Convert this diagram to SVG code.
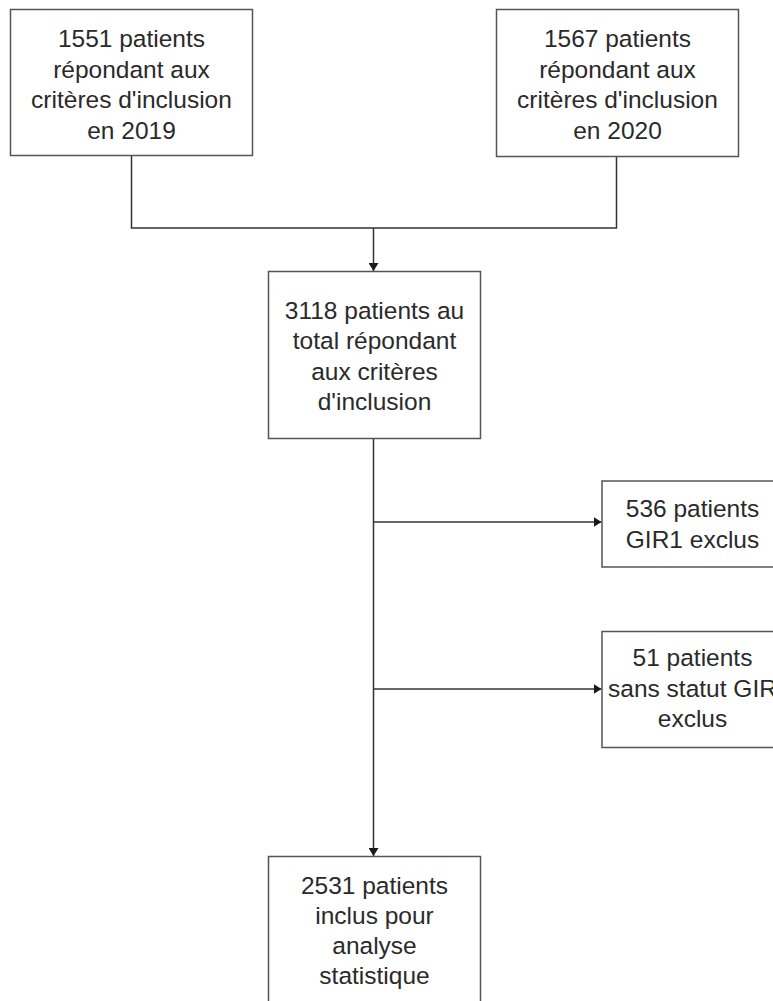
<svg xmlns="http://www.w3.org/2000/svg" width="773" height="1001" viewBox="0 0 773 1001">
<style>
.box{fill:#fff;stroke:#555;stroke-width:1.5}
.t{font-family:"Liberation Sans",Arial,sans-serif;font-size:24.5px;fill:#2a2a2a;text-anchor:middle}
.c{fill:none;stroke:#333;stroke-width:1.5}
</style>
<defs>
<marker id="arr" viewBox="0 0 8 10" refX="8" refY="5" markerWidth="8" markerHeight="10" markerUnits="userSpaceOnUse" orient="auto">
<path d="M0,0 L8,5 L0,10 Z" fill="#1a1a1a"/>
</marker>
</defs>
<rect width="773" height="1001" fill="#fff"/>
<g id="connectors">
<path class="c" d="M131.5,156 V228 H616.5 V156"/>
<path class="c" d="M373.5,228 V271" marker-end="url(#arr)"/>
<path class="c" d="M373.5,439 V856" marker-end="url(#arr)"/>
<path class="c" d="M373.5,522 H601.5" marker-end="url(#arr)"/>
<path class="c" d="M373.5,689 H601.5" marker-end="url(#arr)"/>
</g>
<g id="n2019">
<rect class="box" x="10.5" y="9.5" width="242" height="146"/>
<text class="t" x="131.5" y="47">1551 patients</text>
<text class="t" x="131.5" y="77.5">répondant aux</text>
<text class="t" x="131.5" y="108">critères d'inclusion</text>
<text class="t" x="131.5" y="138.5">en 2019</text>
</g>
<g id="n2020">
<rect class="box" x="496.5" y="9.5" width="242" height="147"/>
<text class="t" x="617.5" y="47">1567 patients</text>
<text class="t" x="617.5" y="77.5">répondant aux</text>
<text class="t" x="617.5" y="108">critères d'inclusion</text>
<text class="t" x="617.5" y="138.5">en 2020</text>
</g>
<g id="ntotal">
<rect class="box" x="268.5" y="271.5" width="212" height="167"/>
<text class="t" x="374.5" y="318.5">3118 patients au</text>
<text class="t" x="374.5" y="349">total répondant</text>
<text class="t" x="374.5" y="379.5">aux critères</text>
<text class="t" x="374.5" y="410">d'inclusion</text>
</g>
<g id="ngir1">
<rect class="box" x="602" y="481" width="181" height="86"/>
<text class="t" x="692.5" y="517">536 patients</text>
<text class="t" x="692.5" y="547.5">GIR1 exclus</text>
</g>
<g id="nsans">
<rect class="box" x="602" y="631.5" width="181" height="116"/>
<text class="t" x="692.5" y="666">51 patients</text>
<text class="t" x="692.5" y="696.5">sans statut GIR</text>
<text class="t" x="692.5" y="727">exclus</text>
</g>
<g id="ninclus">
<rect class="box" x="268.5" y="856.5" width="212" height="160"/>
<text class="t" x="374.5" y="893.5">2531 patients</text>
<text class="t" x="374.5" y="923.5">inclus pour</text>
<text class="t" x="374.5" y="953.5">analyse</text>
<text class="t" x="374.5" y="983.5">statistique</text>
</g>
</svg>
